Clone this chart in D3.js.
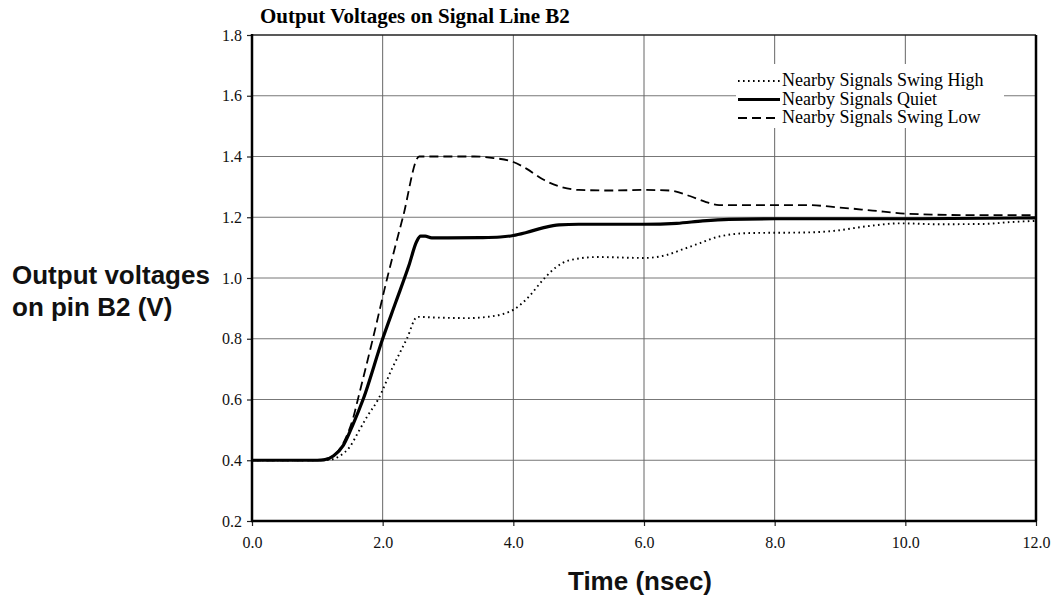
<!DOCTYPE html>
<html>
<head>
<meta charset="utf-8">
<script src="https://cdn.jsdelivr.net/npm/d3@7"></script>
<style>
  html, body { margin: 0; padding: 0; background: #fff; }
  svg { display: block; }
</style>
</head>
<body>
<svg id="chart" width="1051" height="595"></svg>
<script>
// ---- Data ----
const title = "Output Voltages on Signal Line B2";
const xLabel = "Time (nsec)";
const yLabelLines = ["Output voltages", "on pin B2 (V)"];
const xTicks = [0, 2, 4, 6, 8, 10, 12];
const yTicks = [0.2, 0.4, 0.6, 0.8, 1.0, 1.2, 1.4, 1.6, 1.8];
const seriesNames = ["Nearby Signals Swing High", "Nearby Signals Quiet", "Nearby Signals Swing Low"];

const swingHighT = [0, 1.0, 1.2, 1.35, 1.5, 1.62, 1.76, 1.93, 2.14, 2.37, 2.53, 2.8, 3.3, 3.6, 3.85, 4.0, 4.2, 4.48, 4.65, 4.87, 5.28, 6.0, 6.35, 6.6, 6.86, 7.12, 7.62, 8.5, 8.9, 9.4, 9.92, 10.5, 11.2, 11.6, 12];
const swingHighV = [0.4, 0.4, 0.402, 0.415, 0.445, 0.49, 0.543, 0.6, 0.7, 0.8, 0.872, 0.87, 0.868, 0.872, 0.882, 0.895, 0.93, 1.0, 1.035, 1.059, 1.069, 1.066, 1.076, 1.095, 1.115, 1.135, 1.148, 1.15, 1.155, 1.17, 1.18, 1.177, 1.178, 1.184, 1.188];

const quietT = [0, 1.0, 1.1, 1.25, 1.4, 1.55, 1.7, 2.0, 2.2, 2.4, 2.52, 2.58, 2.65, 2.75, 3.0, 3.5, 3.8, 4.0, 4.2, 4.45, 4.7, 5.0, 6.0, 6.5, 6.9, 7.3, 8.0, 10.0, 12];
const quietV = [0.4, 0.4, 0.401, 0.415, 0.45, 0.52, 0.6, 0.8, 0.92, 1.04, 1.12, 1.138, 1.138, 1.132, 1.132, 1.133, 1.135, 1.14, 1.15, 1.165, 1.175, 1.177, 1.177, 1.18, 1.188, 1.193, 1.195, 1.195, 1.198];

const swingLowT = [0, 1.0, 1.15, 1.3, 1.45, 1.55, 1.62, 1.85, 2.07, 2.31, 2.56, 3.0, 3.4, 3.7, 4.0, 4.2, 4.45, 4.7, 5.0, 5.5, 6.0, 6.4, 6.7, 6.95, 7.15, 8.5, 9.0, 9.5, 10.0, 11, 12];
const swingLowV = [0.4, 0.4, 0.405, 0.425, 0.48, 0.54, 0.6, 0.8, 1.0, 1.2, 1.4, 1.4, 1.4, 1.395, 1.382, 1.36, 1.325, 1.302, 1.29, 1.288, 1.29, 1.288, 1.27, 1.25, 1.24, 1.24, 1.232, 1.222, 1.212, 1.207, 1.207];

// ---- Layout ----
const svg = d3.select("#chart");
const L = 252, R = 1036, T = 35, B = 521;
const x = d3.scaleLinear().domain([0, 12]).range([L, R]);
const y = d3.scaleLinear().domain([0.2, 1.8]).range([B, T]);
const serif = "'Liberation Serif', 'Times New Roman', serif";
const sans = "'Liberation Sans', Arial, sans-serif";

// gridlines
const grid = svg.append("g");
grid.selectAll("line.h").data(yTicks.filter(v => v > 0.2 && v < 1.8)).enter().append("line")
  .attr("x1", L).attr("x2", R).attr("y1", d => y(d)).attr("y2", d => y(d))
  .attr("stroke", "#777").attr("stroke-width", 1);
grid.selectAll("line.v").data(xTicks.filter(v => v > 0 && v < 12)).enter().append("line")
  .attr("y1", T).attr("y2", B).attr("x1", d => x(d)).attr("x2", d => x(d))
  .attr("stroke", "#666").attr("stroke-width", 1);

// legend background (hides gridlines)
svg.append("rect").attr("x", 736).attr("y", 64).attr("width", 268).attr("height", 64).attr("fill", "#fff");

// axes
const yAxis = d3.axisLeft(y).tickValues(yTicks).tickFormat(d3.format(".1f")).tickSize(5).tickPadding(5);
const xAxis = d3.axisBottom(x).tickValues(xTicks).tickFormat(d3.format(".1f")).tickSize(5).tickPadding(11);
const gy = svg.append("g").attr("transform", `translate(${L},0)`).call(yAxis);
const gx = svg.append("g").attr("transform", `translate(0,${B})`).call(xAxis);
[gx, gy].forEach(g => {
  g.select(".domain").remove();
  g.selectAll(".tick line").attr("stroke", "#222").attr("stroke-width", 1.2);
  g.selectAll(".tick text").attr("font-family", serif).attr("font-size", 16).attr("fill", "#111");
});

// frame
svg.append("line").attr("x1", L).attr("x2", R).attr("y1", T).attr("y2", T).attr("stroke", "#222").attr("stroke-width", 1.5);
svg.append("line").attr("x1", R).attr("x2", R).attr("y1", T).attr("y2", B).attr("stroke", "#000").attr("stroke-width", 2.5);
svg.append("line").attr("x1", L).attr("x2", L).attr("y1", T - 1).attr("y2", B + 1).attr("stroke", "#000").attr("stroke-width", 2.5);
svg.append("line").attr("x1", L - 1).attr("x2", R + 1).attr("y1", B).attr("y2", B).attr("stroke", "#000").attr("stroke-width", 2.5);

// series
const series = [
  { name: seriesNames[0], t: swingHighT, v: swingHighV, dash: "1.6,3.4", w: 1.9 },
  { name: seriesNames[1], t: quietT, v: quietV, dash: null, w: 3.2 },
  { name: seriesNames[2], t: swingLowT, v: swingLowV, dash: "9,5", w: 1.8 }
];
const line = d3.line().x(d => x(d[0])).y(d => y(d[1])).curve(d3.curveMonotoneX);
series.forEach(s => {
  svg.append("path").datum(s.t.map((t, i) => [t, s.v[i]]))
    .attr("d", line).attr("fill", "none").attr("stroke", "#000")
    .attr("stroke-width", s.w).attr("stroke-dasharray", s.dash)
    .attr("stroke-linejoin", "round");
});

// legend
const lg = svg.append("g");
series.forEach((s, i) => {
  const cy = 81 + i * 18.5;
  lg.append("line").attr("x1", 738).attr("x2", 780).attr("y1", cy).attr("y2", cy)
    .attr("stroke", "#000").attr("stroke-width", s.w).attr("stroke-dasharray", s.dash);
  lg.append("text").attr("x", 782).attr("y", cy + 5).attr("font-family", serif).attr("font-size", 18)
    .attr("fill", "#000").text(s.name);
});

// title
svg.append("text").attr("x", 260).attr("y", 23).attr("font-family", serif).attr("font-weight", "bold")
  .attr("font-size", 21).attr("fill", "#000").text(title);

// axis titles
svg.append("text").attr("x", 640).attr("y", 590).attr("text-anchor", "middle")
  .attr("font-family", sans).attr("font-weight", "bold").attr("font-size", 26).attr("fill", "#111").text(xLabel);
const yt = svg.append("text").attr("font-family", sans).attr("font-weight", "bold").attr("font-size", 26).attr("fill", "#111");
yLabelLines.forEach((l, i) => {
  yt.append("tspan").attr("x", 12).attr("y", 284 + i * 32).text(l);
});
</script>
</body>
</html>
